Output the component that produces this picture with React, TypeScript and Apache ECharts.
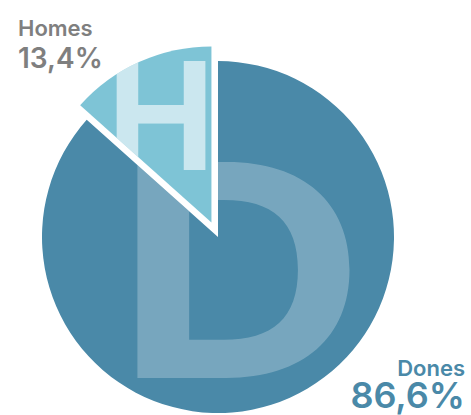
import React, { useEffect, useRef } from 'react';
import * as echarts from 'echarts';

const categories = ['Dones', 'Homes'];
const values = [86.6, 13.4];
const sliceColors = ['#4a89a8', '#7ec4d6'];
const labelColors = ['#4a89a8', '#7f7f7f'];
const initials = ['D', 'H'];

const FONT = 'Inter, "Noto Sans", sans-serif';
const fmt = (v: number) => v.toFixed(1).replace('.', ',') + '%';

export default function App() {
  const ref = useRef<HTMLDivElement>(null);
  useEffect(() => {
    const el = ref.current!;
    const chart = echarts.init(el, null, { renderer: 'svg' });
    chart.setOption({
      animation: false,
      backgroundColor: '#ffffff',
      graphic: [
        {
          type: 'text',
          right: 6,
          bottom: 2,
          z: 20,
          style: {
            text: `{n|${categories[0]}}\n{v|${fmt(values[0])}}`,
            fill: labelColors[0],
            align: 'right',
            fontFamily: FONT,
            rich: {
              n: { fontFamily: FONT, fontSize: 22, fontWeight: 600, lineHeight: 22, fill: labelColors[0], align: 'right' },
              v: { fontFamily: FONT, fontSize: 36, fontWeight: 600, lineHeight: 32, fill: labelColors[0], align: 'right' },
            },
          },
        },
        {
          type: 'text',
          left: 18,
          top: 17,
          z: 20,
          style: {
            text: `{n|${categories[1]}}\n{v|${fmt(values[1])}}`,
            fill: labelColors[1],
            align: 'left',
            fontFamily: FONT,
            rich: {
              n: { fontFamily: FONT, fontSize: 22, fontWeight: 600, lineHeight: 26, fill: labelColors[1] },
              v: { fontFamily: FONT, fontSize: 28, fontWeight: 600, lineHeight: 34, fill: labelColors[1] },
            },
          },
        },
      ],
      series: [
        {
          type: 'pie',
          center: [218, 237],
          radius: 176,
          startAngle: 90,
          clockwise: true,
          selectedMode: 'single',
          selectedOffset: 16,
          emphasis: { disabled: true },
          itemStyle: { borderWidth: 0 },
          label: { show: false },
          labelLine: { show: false },
          data: categories.map((name, i) => ({
            name,
            value: values[i],
            selected: i === 1,
            itemStyle: { color: sliceColors[i] },
          })),
        },
      ],
    });

    // Large initials, clipped to their own slice
    const zr = chart.getZr();
    const seriesData = (chart as any).getModel().getSeriesByIndex(0).getData();
    const letterStyle = [
      { fontSize: 297, fontWeight: 700, opacity: 0.25, x: 240, y: 270, sx: 1.17 },
      { fontSize: 150, fontWeight: 700, opacity: 0.6, x: 161, y: 115, sx: 0.96 },
    ];
    initials.forEach((ch, i) => {
      const sector = seriesData.getItemGraphicEl(i);
      if (!sector) return;
      const clip = new (echarts.graphic as any).Sector({
        shape: { ...sector.shape },
        x: sector.x,
        y: sector.y,
      });
      const s = letterStyle[i];
      const group = new (echarts.graphic as any).Group();
      const t = new (echarts.graphic as any).Text({
        z: 10,
        silent: true,
        originX: s.x,
        originY: s.y,
        scaleX: s.sx,
        style: {
          text: ch,
          x: s.x,
          y: s.y,
          fontSize: s.fontSize,
          fontWeight: s.fontWeight,
          fontFamily: FONT,
          fill: `rgba(255,255,255,${s.opacity})`,
          align: 'center',
          verticalAlign: 'middle',
        },
      });
      group.add(t);
      group.setClipPath(clip);
      zr.add(group);
    });
    zr.refreshImmediately && zr.refreshImmediately();

    return () => chart.dispose();
  }, []);
  return (
    <div
      ref={ref}
      style={{ position: 'absolute', left: 0, top: 0, width: 471, height: 415 }}
    />
  );
}
